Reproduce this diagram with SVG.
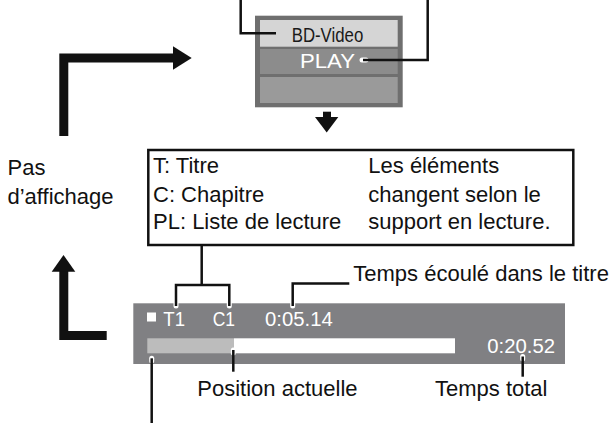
<svg xmlns="http://www.w3.org/2000/svg" width="612" height="423" viewBox="0 0 612 423">
<style>
.t{font-family:"Liberation Sans",Arial,sans-serif;font-size:22px;fill:#111}
.c{font-family:"Liberation Sans",Arial,sans-serif;fill:#fff}
.ld{fill:none;stroke:#111;stroke-width:2.5;stroke-linecap:butt}
.halo{fill:none;stroke:#fff;stroke-width:5;stroke-linecap:round}
.el{fill:none;stroke:#111;stroke-width:9;stroke-linejoin:miter}
.ah{fill:#111}
</style>
<rect width="612" height="423" fill="#fff"/>

<g id="screen-menu">
  <rect x="255" y="15.7" width="147.7" height="91.6" fill="#6f6f6f"/>
  <rect x="260" y="20" width="137.7" height="26.7" fill="#d5d5d5"/>
  <rect x="260" y="49" width="137.7" height="25" fill="#8c8c8c"/>
  <rect x="260" y="77" width="137.7" height="26" fill="#9a9a9a"/>
  <text x="291.7" y="41.7" textLength="71.6" lengthAdjust="spacingAndGlyphs" style="font-family:'Liberation Sans',Arial,sans-serif;font-size:20px;fill:#1a1a1a">BD-Video</text>
  <text class="c" x="300" y="68.3" font-size="21" textLength="55" lengthAdjust="spacingAndGlyphs">PLAY</text>
</g>

<g id="down-arrow">
  <rect x="323" y="111.7" width="8" height="6.3" class="ah"/>
  <polygon class="ah" points="315,117 338.3,117 326.7,132.5"/>
</g>

<g id="label-pas-affichage">
  <text class="t" x="7.5" y="174.5">Pas</text>
  <text class="t" x="7.5" y="203.5">d’affichage</text>
</g>

<g id="legend-box">
  <rect x="148.3" y="150" width="425" height="95" fill="#fff" stroke="#111" stroke-width="2.5"/>
  <text class="t" x="153" y="173">T: Titre</text>
  <text class="t" x="153" y="201.5">C: Chapitre</text>
  <text class="t" x="153" y="229">PL: Liste de lecture</text>
  <text class="t" x="368.3" y="173">Les éléments</text>
  <text class="t" x="368.3" y="201.5">changent selon le</text>
  <text class="t" x="368.3" y="229">support en lecture.</text>
</g>

<g id="status-bar">
  <rect x="133.3" y="303.3" width="431.7" height="60.7" fill="#808083"/>
  <rect x="147" y="312.5" width="9" height="9" fill="#fff"/>
  <rect x="147.3" y="338.3" width="86.7" height="15" fill="#bcbcbc"/>
  <rect x="234" y="338.3" width="221" height="15" fill="#fff"/>
  <text class="c" x="163.3" y="325.5" font-size="20" textLength="21.7" lengthAdjust="spacingAndGlyphs">T1</text>
  <text class="c" x="212.7" y="325.5" font-size="20" textLength="22.3" lengthAdjust="spacingAndGlyphs">C1</text>
  <text class="c" x="265" y="325.5" font-size="20" textLength="67.7" lengthAdjust="spacingAndGlyphs">0:05.14</text>
  <text class="c" x="487.3" y="353" font-size="20" textLength="67.7" lengthAdjust="spacingAndGlyphs">0:20.52</text>
</g>

<g id="label-temps-ecoule">
  <text class="t" x="353.3" y="281">Temps écoulé dans le titre</text>
</g>
<g id="label-position">
  <text class="t" x="197.3" y="395.7">Position actuelle</text>
</g>
<g id="label-temps-total">
  <text class="t" x="435" y="395.7">Temps total</text>
</g>

<g id="connectors">
  <path class="el" d="M63.8 136 V58 H174"/>
  <polygon class="ah" points="173,46.3 191.7,58 173,69.7"/>
  <path class="el" d="M106.7 335.5 H63.8 V270"/>
  <polygon class="ah" points="51.7,271.7 63.5,255 75.3,271.7"/>

  <path class="ld" d="M240.7 0 V33.3 H276"/>
  <line class="halo" x1="366" y1="60" x2="362" y2="60"/>
  <path class="ld" d="M427.7 0 V60 H363"/>

  <line class="halo" x1="176" y1="302" x2="176" y2="306"/>
  <line class="halo" x1="229.3" y1="302" x2="229.3" y2="306"/>
  <path class="ld" d="M201.7 246 V285"/>
  <path class="ld" d="M176 306 V285 H229.3 V306"/>

  <line class="halo" x1="292.7" y1="302" x2="292.7" y2="306"/>
  <path class="ld" d="M349.3 283.5 H292.7 V306"/>

  <line class="halo" x1="233.3" y1="353" x2="233.3" y2="350"/>
  <path class="ld" d="M233.3 350 V371.7"/>
  <line class="halo" x1="522.7" y1="359" x2="522.7" y2="356.5"/>
  <path class="ld" d="M522.7 356.5 V376.7"/>
  <line class="halo" x1="151.7" y1="361" x2="151.7" y2="358.3"/>
  <path class="ld" d="M151.7 358.3 V423"/>
</g>
</svg>
